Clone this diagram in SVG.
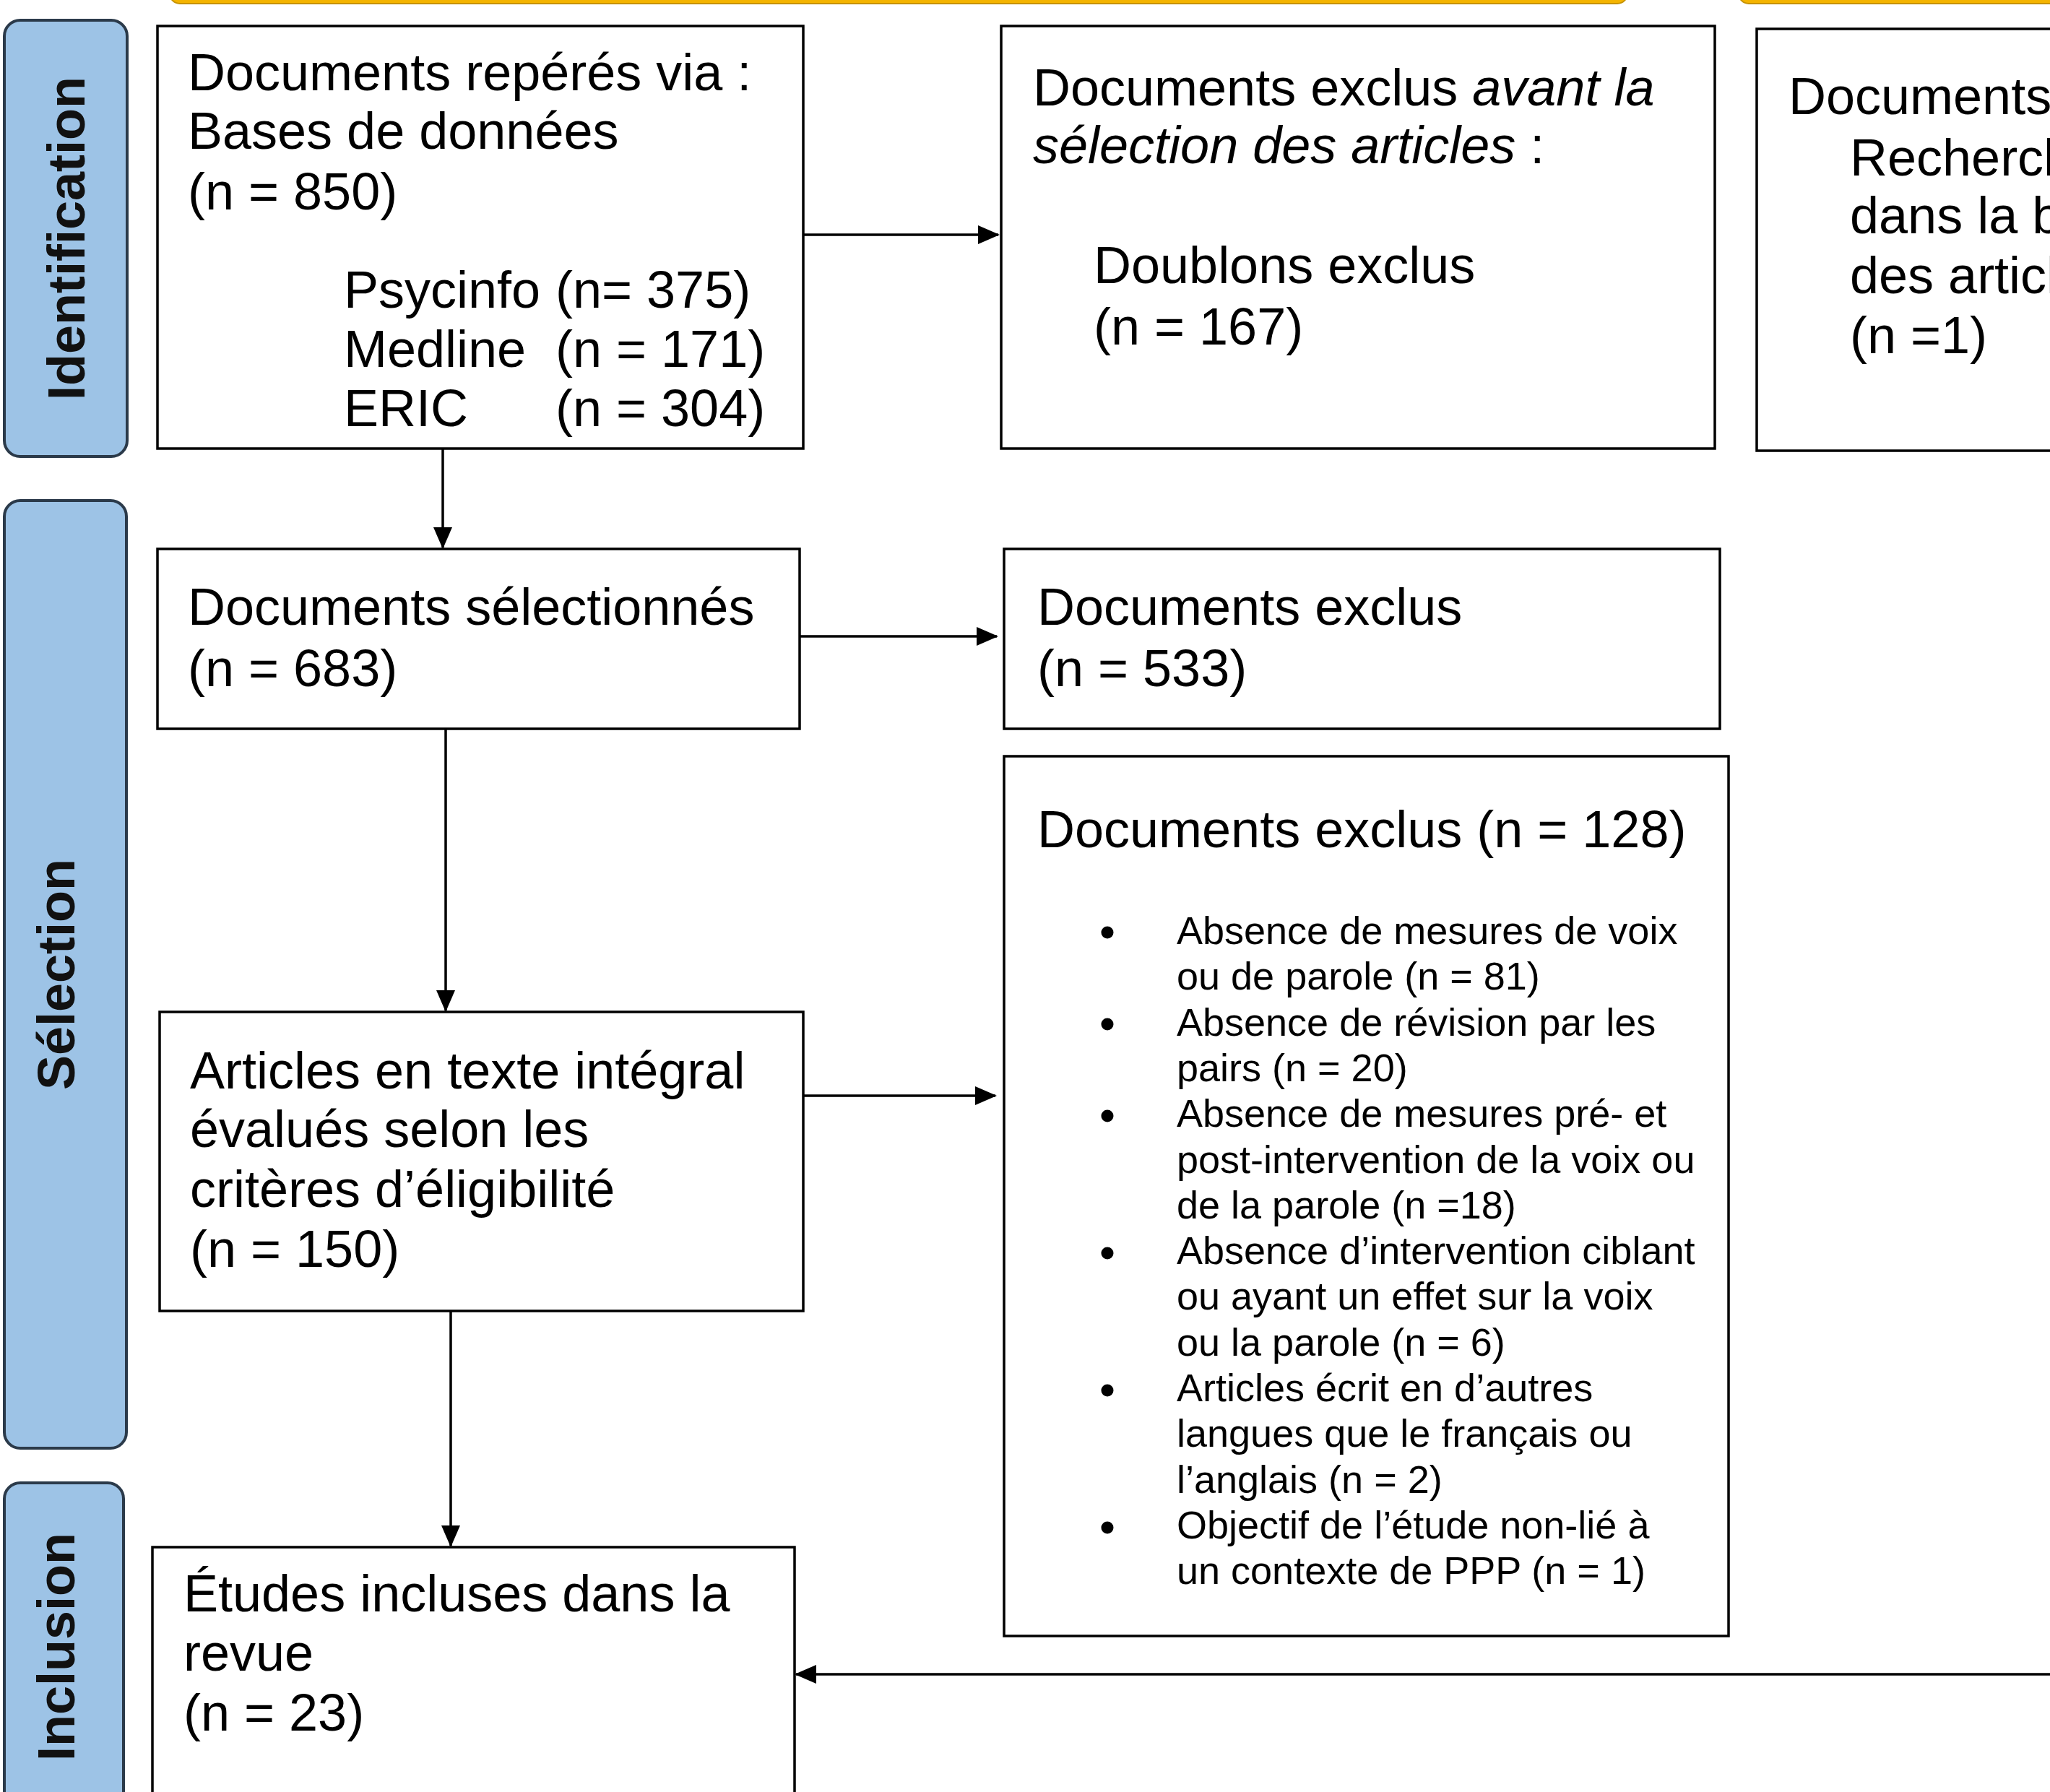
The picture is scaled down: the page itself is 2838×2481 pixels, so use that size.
<svg xmlns="http://www.w3.org/2000/svg" width="2838" height="2481" viewBox="0 0 2838 2481">
<style>
.box{fill:#fff;stroke:#000;stroke-width:3.5}
.phase{fill:#9dc3e6;stroke:#2b3a4a;stroke-width:4}
.ph{font-family:"Liberation Sans",Arial,sans-serif;font-weight:bold;font-size:72px;fill:#111;text-anchor:middle}
.t{font-family:"Liberation Sans",Arial,sans-serif;font-size:72px;fill:#000}
.tb{font-family:"Liberation Sans",Arial,sans-serif;font-size:54px;fill:#000}
.c{fill:none;stroke:#000;stroke-width:3.5}
.bar{fill:#f4b400;stroke:#c69200;stroke-width:2}
</style>
<defs>
<marker id="ah" markerUnits="userSpaceOnUse" markerWidth="30" markerHeight="26" refX="28" refY="13" orient="auto">
<path d="M0,0 L30,13 L0,26 Z" fill="#000"/>
</marker>
</defs>
<rect width="2838" height="2481" fill="#fff"/>
<g id="top-bars">
<rect class="bar" x="235" y="-40" width="2018" height="45" rx="14"/>
<rect class="bar" x="2407" y="-40" width="600" height="45" rx="14"/>
</g>
<g id="phase-identification">
<rect class="phase" x="6" y="28" width="170" height="604" rx="22"/>
<text class="ph" transform="translate(117,330) rotate(-90)">Identification</text>
</g>
<g id="phase-selection">
<rect class="phase" x="6" y="693" width="169" height="1312" rx="22"/>
<text class="ph" transform="translate(103,1349) rotate(-90)">Sélection</text>
</g>
<g id="phase-inclusion">
<rect class="phase" x="6" y="2053" width="165" height="470" rx="22"/>
<text class="ph" transform="translate(103,2280) rotate(-90)">Inclusion</text>
</g>
<g id="node-reperes">
<rect class="box" x="218" y="36" width="894" height="585"/>
<text class="t"><tspan x="260" y="125">Documents repérés via :</tspan><tspan x="260" y="206">Bases de données</tspan><tspan x="260" y="290">(n = 850)</tspan></text>
<text class="t"><tspan x="476" y="426">Psycinfo</tspan><tspan x="769" y="426">(n= 375)</tspan><tspan x="476" y="508">Medline</tspan><tspan x="769" y="508">(n = 171)</tspan><tspan x="476" y="590">ERIC</tspan><tspan x="769" y="590">(n = 304)</tspan></text>
</g>
<g id="node-exclus-avant">
<rect class="box" x="1386" y="36" width="988" height="585"/>
<text class="t"><tspan x="1430" y="146">Documents exclus <tspan font-style="italic">avant la</tspan></tspan><tspan x="1430" y="226"><tspan font-style="italic">sélection des articles</tspan> :</tspan></text>
<text class="t"><tspan x="1514" y="392">Doublons exclus</tspan><tspan x="1514" y="477">(n = 167)</tspan></text>
</g>
<g id="node-recherche-manuelle">
<rect class="box" x="2432" y="40" width="500" height="584"/>
<text class="t" font-size="70"><tspan x="2476" y="158">Documents</tspan><tspan x="2561" y="243">Recherch</tspan><tspan x="2561" y="323">dans la b</tspan><tspan x="2561" y="406">des articl</tspan><tspan x="2561" y="489">(n =1)</tspan></text>
</g>
<g id="node-selectionnes">
<rect class="box" x="218" y="760" width="889" height="249"/>
<text class="t"><tspan x="260" y="865">Documents sélectionnés</tspan><tspan x="260" y="950">(n = 683)</tspan></text>
</g>
<g id="node-exclus-533">
<rect class="box" x="1390" y="760" width="991" height="249"/>
<text class="t"><tspan x="1436" y="865">Documents exclus</tspan><tspan x="1436" y="950">(n = 533)</tspan></text>
</g>
<g id="node-articles">
<rect class="box" x="221" y="1401" width="891" height="414"/>
<text class="t"><tspan x="263" y="1507">Articles en texte intégral</tspan><tspan x="263" y="1588">évalués selon les</tspan><tspan x="263" y="1671">critères d’éligibilité</tspan><tspan x="263" y="1754">(n = 150)</tspan></text>
</g>
<g id="node-exclus-128">
<rect class="box" x="1390" y="1047" width="1003" height="1218"/>
<text class="t"><tspan x="1436" y="1173">Documents exclus (n = 128)</tspan></text>
<g fill="#000">
<circle cx="1533" cy="1291" r="8.5"/>
<circle cx="1533" cy="1418" r="8.5"/>
<circle cx="1533" cy="1545" r="8.5"/>
<circle cx="1533" cy="1735" r="8.5"/>
<circle cx="1533" cy="1925" r="8.5"/>
<circle cx="1533" cy="2115" r="8.5"/>
</g>
<text class="tb">
<tspan x="1629" y="1307">Absence de mesures de voix</tspan>
<tspan x="1629" y="1370">ou de parole (n = 81)</tspan>
<tspan x="1629" y="1434">Absence de révision par les</tspan>
<tspan x="1629" y="1497">pairs (n = 20)</tspan>
<tspan x="1629" y="1560">Absence de mesures pré- et</tspan>
<tspan x="1629" y="1624">post-intervention de la voix ou</tspan>
<tspan x="1629" y="1687">de la parole (n =18)</tspan>
<tspan x="1629" y="1750">Absence d’intervention ciblant</tspan>
<tspan x="1629" y="1813">ou ayant un effet sur la voix</tspan>
<tspan x="1629" y="1877">ou la parole (n = 6)</tspan>
<tspan x="1629" y="1940">Articles écrit en d’autres</tspan>
<tspan x="1629" y="2003">langues que le français ou</tspan>
<tspan x="1629" y="2067">l’anglais (n = 2)</tspan>
<tspan x="1629" y="2130">Objectif de l’étude non-lié à</tspan>
<tspan x="1629" y="2193">un contexte de PPP (n = 1)</tspan>
</text>
</g>
<g id="node-etudes">
<rect class="box" x="211" y="2142" width="889" height="400"/>
<text class="t"><tspan x="254" y="2231">Études incluses dans la</tspan><tspan x="254" y="2313">revue</tspan><tspan x="254" y="2396">(n = 23)</tspan></text>
</g>
<g id="connectors">
<path class="c" d="M1112,325 H1382" marker-end="url(#ah)"/>
<path class="c" d="M613,621 V758" marker-end="url(#ah)"/>
<path class="c" d="M1107,881 H1380" marker-end="url(#ah)"/>
<path class="c" d="M617,1009 V1399" marker-end="url(#ah)"/>
<path class="c" d="M1112,1517 H1378" marker-end="url(#ah)"/>
<path class="c" d="M624,1815 V2140" marker-end="url(#ah)"/>
<path class="c" d="M2845,2318 H1102" marker-end="url(#ah)"/>
</g>
</svg>
